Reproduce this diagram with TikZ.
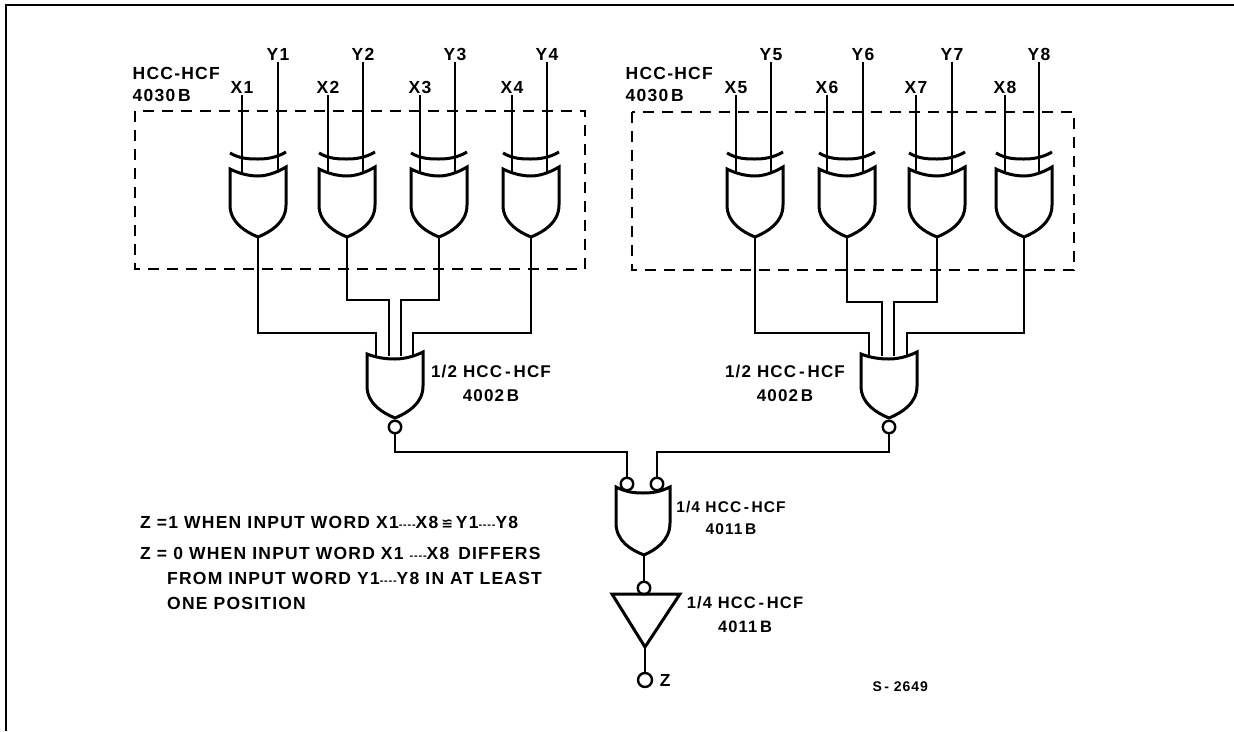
\documentclass[tikz,border=0pt]{standalone}
\usepackage{fontspec}
\setmainfont{Liberation Sans}[LetterSpace=7]
\newfontfamily\symfont{DejaVu Sans}
\newcommand{\dotgap}{{\fontsize{11}{11}\selectfont -{}-{}-{}-}}
\begin{document}
\begin{tikzpicture}[x=1pt,y=-1pt,
    n/.style={font=\fontsize{17.5}{20}\selectfont\bfseries,inner sep=1.5pt},
    io/.style={n,text height=12pt,text depth=0pt},
    t/.style={n,anchor=west},
    s/.style={font=\fontsize{17.5}{25}\selectfont\bfseries,align=left,anchor=west,inner sep=0pt},
    wire/.style={line width=1.8pt},
    gateline/.style={line width=3pt},
    bub/.style={circle,draw,line width=2.4pt,fill=white,minimum size=12.5pt,inner sep=0pt},
    xorgate/.pic={
      \draw[gateline] (-28,-84) .. controls (-18,-78) and (-8,-78) .. (0,-78)
        .. controls (8,-78) and (18,-79) .. (28,-85);
      \coordinate (top) at (0,-64);
      \coordinate (out) at (0,0);
      \draw[gateline,fill=white] (-28,-68) .. controls (-18,-63) and (-8,-61) .. (0,-61)
        .. controls (8,-61) and (18,-64) .. (28,-70)
        -- (28,-32) .. controls (28,-14) and (12,-5) .. (0,0)
        .. controls (-12,-5) and (-28,-14) .. (-28,-32) -- cycle;
    },
    norgate/.pic={
      \coordinate (top) at (0,-62);
      \coordinate (out) at (0,0);
      \draw[gateline] (-28,-64) .. controls (-18,-60) and (-8,-59) .. (0,-59)
        .. controls (8,-59) and (18,-61) .. (28,-66)
        -- (28,-32) .. controls (28,-14) and (12,-5) .. (0,0)
        .. controls (-12,-5) and (-28,-14) .. (-28,-32) -- cycle;
    }]
\useasboundingbox (0,0) rectangle (1234,731);
\draw[line width=2pt] (6,731) -- (6,5) -- (1234,5);

\draw[wire,dashed,dash pattern=on 11pt off 8pt] (135,111) rectangle (585,269);
\draw[wire,dashed,dash pattern=on 11pt off 8pt] (632,112) rectangle (1074,270);

\pic (g1-) at (258,237) {xorgate};
\pic (g2-) at (347,237) {xorgate};
\pic (g3-) at (439,237) {xorgate};
\pic (g4-) at (531,237) {xorgate};
\pic (g5-) at (755,237) {xorgate};
\pic (g6-) at (847,237) {xorgate};
\pic (g7-) at (937,237) {xorgate};
\pic (g8-) at (1024,237) {xorgate};
\pic (nl-) at (395,418) {norgate};
\pic (nr-) at (889,418) {norgate};

\node[io] (x1) at (242,87) {X1};
\node[io] (y1) at (278,54) {Y1};
\node[io] (x2) at (328,87) {X2};
\node[io] (y2) at (363,54) {Y2};
\node[io] (x3) at (420,87) {X3};
\node[io] (y3) at (455,54) {Y3};
\node[io] (x4) at (512,87) {X4};
\node[io] (y4) at (547,54) {Y4};
\node[io] (x5) at (736,87) {X5};
\node[io] (y5) at (771,54) {Y5};
\node[io] (x6) at (827,87) {X6};
\node[io] (y6) at (863,54) {Y6};
\node[io] (x7) at (916,87) {X7};
\node[io] (y7) at (952,54) {Y7};
\node[io] (x8) at (1005,87) {X8};
\node[io] (y8) at (1039,54) {Y8};

\draw[wire] (x1.south) -- (x1.south |- g1-top);
\draw[wire] (y1.south) -- (y1.south |- g1-top);
\draw[wire] (x2.south) -- (x2.south |- g2-top);
\draw[wire] (y2.south) -- (y2.south |- g2-top);
\draw[wire] (x3.south) -- (x3.south |- g3-top);
\draw[wire] (y3.south) -- (y3.south |- g3-top);
\draw[wire] (x4.south) -- (x4.south |- g4-top);
\draw[wire] (y4.south) -- (y4.south |- g4-top);
\draw[wire] (x5.south) -- (x5.south |- g5-top);
\draw[wire] (y5.south) -- (y5.south |- g5-top);
\draw[wire] (x6.south) -- (x6.south |- g6-top);
\draw[wire] (y6.south) -- (y6.south |- g6-top);
\draw[wire] (x7.south) -- (x7.south |- g7-top);
\draw[wire] (y7.south) -- (y7.south |- g7-top);
\draw[wire] (x8.south) -- (x8.south |- g8-top);
\draw[wire] (y8.south) -- (y8.south |- g8-top);

\coordinate (a1) at (376,333);
\coordinate (a2) at (389,300);
\coordinate (a3) at (401,300);
\coordinate (a4) at (413,333);
\coordinate (b1) at (869,333);
\coordinate (b2) at (882,302);
\coordinate (b3) at (894,302);
\coordinate (b4) at (907,333);
\draw[wire] (g1-out) |- (a1) -- (a1 |- nl-top);
\draw[wire] (g2-out) |- (a2) -- (a2 |- nl-top);
\draw[wire] (g3-out) |- (a3) -- (a3 |- nl-top);
\draw[wire] (g4-out) |- (a4) -- (a4 |- nl-top);
\draw[wire] (g5-out) |- (b1) -- (b1 |- nr-top);
\draw[wire] (g6-out) |- (b2) -- (b2 |- nr-top);
\draw[wire] (g7-out) |- (b3) -- (b3 |- nr-top);
\draw[wire] (g8-out) |- (b4) -- (b4 |- nr-top);

\node[bub] (nlb) at (395,427) {};
\node[bub] (nrb) at (889,427) {};

% nand and inverter
\draw[gateline] (616,487) .. controls (626,492) and (634,493) .. (643,493)
  .. controls (652,493) and (660,492) .. (670,487)
  -- (670,523) .. controls (670,541) and (655,550) .. (644,555)
  .. controls (631,550) and (616,541) .. (616,523) -- cycle;
\coordinate (nandout) at (644,555);
\node[bub] (in1) at (627,484) {};
\node[bub] (in2) at (657,484) {};
\coordinate (c1) at (627,452);
\coordinate (c2) at (657,452);
\draw[wire] (nlb) |- (c1) -- (in1);
\draw[wire] (nrb) |- (c2) -- (in2);

\node[bub] (invb) at (644,588) {};
\draw[wire] (nandout) -- (invb);
\draw[gateline,miter limit=4] (612,594) -- (680,594) -- (645,647) -- cycle;
\coordinate (invout) at (645,647);
\node[bub,minimum size=14pt] (z) at (645,680) {};
\draw[wire] (invout) -- (z);
\node[t] (zl) at (z.east) [xshift=5pt] {Z};

\node[n,anchor=west] (l1) at (131,73) {HCC-HCF};
\node[n,anchor=west] (l2) at (131,95) {4030\,B};
\node[n,anchor=west] (l3) at (624,73) {HCC-HCF};
\node[n,anchor=west] (l4) at (624,95) {4030\,B};
\node[n,align=center,font=\fontsize{17}{20}\selectfont\bfseries] (l5) at (491,383) {1/2 HCC\,-\,HCF\\[4pt]4002\,B};
\node[n,align=center,font=\fontsize{17}{20}\selectfont\bfseries] (l6) at (785,383) {1/2 HCC\,-\,HCF\\[4pt]4002\,B};
\node[n,align=center,font=\fontsize{15.5}{20}\selectfont\bfseries] (l7) at (731,518) {1/4 HCC\,-\,HCF\\[2pt]4011\,B};
\node[n,align=center,font=\fontsize{16.5}{20}\selectfont\bfseries] (l8) at (745,615) {1/4 HCC\,-\,HCF\\[4pt]4011\,B};

\node[s] (w1) at (140,522) {Z =1 WHEN INPUT WORD X1\dotgap X8\,{\symfont\fontsize{14}{14}\selectfont ≌}\,Y1\dotgap Y8};
\node[s,anchor=north west] (w2) at (140,547) {Z = 0 WHEN INPUT WORD X1 \dotgap X8 \,DIFFERS\\
\hspace{27pt}FROM INPUT WORD Y1\dotgap Y8 IN AT LEAST\\
\hspace{27pt}ONE POSITION};
\node[t,font=\fontsize{14}{16}\selectfont\bfseries] (ref) at (871,687) {S\,- 2649};
\end{tikzpicture}
\end{document}
